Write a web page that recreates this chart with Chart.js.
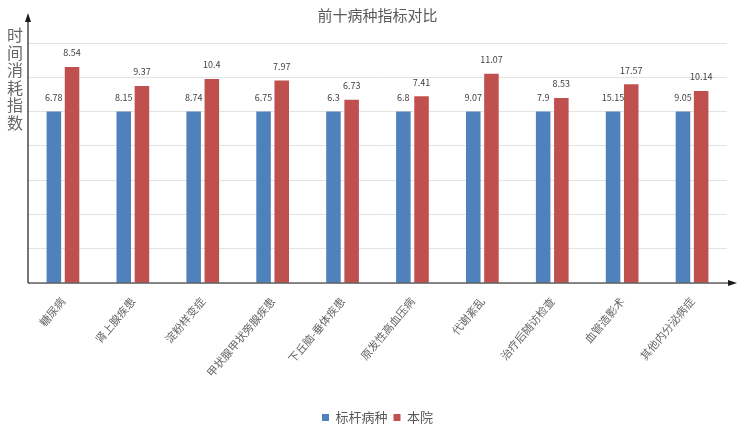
<!DOCTYPE html>
<html><head><meta charset="utf-8">
<script src="https://cdn.jsdelivr.net/npm/chart.js@4"></script>
<style>html,body{margin:0;padding:0;background:#fff}#w{width:737px;height:430px}</style>
</head><body><div id="w"><canvas id="c"></canvas></div>
<script>
const categories = ["糖尿病","肾上腺疾患","淀粉样变症","甲状腺甲状旁腺疾患","下丘脑-垂体疾患","原发性高血压病","代谢紊乱","治疗后随访检查","血管造影术","其他内分泌病症"];
const benchmarkValues = [6.78, 8.15, 8.74, 6.75, 6.3, 6.8, 9.07, 7.9, 15.15, 9.05];
const hospitalValues = [8.54, 9.37, 10.4, 7.97, 6.73, 7.41, 11.07, 8.53, 17.57, 10.14];
const seriesNames = ["标杆病种","本院"];
const yTitle = "时间消耗指数";
const chartTitle = "前十病种指标对比";

const benchmarkIndex = benchmarkValues.map(v => v / v);
const hospitalIndex = hospitalValues.map((v, i) => v / benchmarkValues[i]);
const rawValues = [benchmarkValues, hospitalValues];
const FONT = "'Noto Sans CJK SC', 'Noto Sans', sans-serif";

const decor = {
  id: 'decor',
  afterDatasetsDraw(chart) {
    const ctx = chart.ctx;
    ctx.save();
    ctx.font = "9px " + FONT;
    ctx.fillStyle = "#404040";
    ctx.textAlign = "center";
    ctx.textBaseline = "middle";
    chart.data.datasets.forEach((ds, di) => {
      chart.getDatasetMeta(di).data.forEach((el, i) => {
        ctx.fillText(String(rawValues[di][i]), el.x, el.y - 14);
      });
    });
    ctx.restore();
  },
  afterDraw(chart) {
    const ctx = chart.ctx;
    const a = chart.chartArea;
    ctx.save();
    ctx.strokeStyle = "#1a1a1a";
    ctx.fillStyle = "#1a1a1a";
    ctx.lineWidth = 1.2;
    ctx.beginPath();
    ctx.moveTo(a.left, a.bottom);
    ctx.lineTo(a.left, 20);
    ctx.moveTo(a.left, a.bottom);
    ctx.lineTo(730, a.bottom);
    ctx.stroke();
    ctx.beginPath();
    ctx.moveTo(a.left, 13); ctx.lineTo(a.left - 3, 22); ctx.lineTo(a.left + 3, 22); ctx.closePath(); ctx.fill();
    ctx.beginPath();
    ctx.moveTo(737, a.bottom); ctx.lineTo(728, a.bottom - 3); ctx.lineTo(728, a.bottom + 3); ctx.closePath(); ctx.fill();
    ctx.font = "16px " + FONT;
    ctx.fillStyle = "#666666";
    ctx.textAlign = "center";
    ctx.textBaseline = "middle";
    [...yTitle].forEach((ch, i) => ctx.fillText(ch, 15, 35 + i * 17.5));
    ctx.restore();
  }
};

new Chart(document.getElementById('c'), {
  type: 'bar',
  data: {
    labels: categories,
    datasets: [
      { label: seriesNames[0], data: benchmarkIndex, backgroundColor: '#4F81BD', categoryPercentage: 0.52, barPercentage: 0.8 },
      { label: seriesNames[1], data: hospitalIndex, backgroundColor: '#C0504D', categoryPercentage: 0.52, barPercentage: 0.8 }
    ]
  },
  options: {
    responsive: true,
    maintainAspectRatio: false,
    animation: false,
    devicePixelRatio: 1,
    layout: { padding: { left: 28, right: 10, top: 0, bottom: -4 } },
    plugins: {
      title: { display: true, text: chartTitle, color: '#595959', font: { family: FONT, size: 15, weight: 'normal' }, padding: { top: 6, bottom: 19 } },
      legend: { position: 'bottom', labels: { color: '#595959', font: { family: FONT, size: 13 }, boxWidth: 7, boxHeight: 7, padding: 6 } },
      tooltip: { enabled: false }
    },
    scales: {
      x: {
        grid: { display: false },
        border: { display: false },
        ticks: { color: '#666666', font: { family: FONT, size: 11 }, minRotation: 50, maxRotation: 50, autoSkip: false, padding: 4 },
        afterFit(s) { s.height = 122; }
      },
      y: {
        min: 0, max: 1.4,
        ticks: { display: false, stepSize: 0.2 },
        grid: { color: '#e3e3e3', drawTicks: false },
        border: { display: false },
        afterFit(s) { s.width = 0; }
      }
    }
  },
  plugins: [decor]
});
</script>
</body></html>
